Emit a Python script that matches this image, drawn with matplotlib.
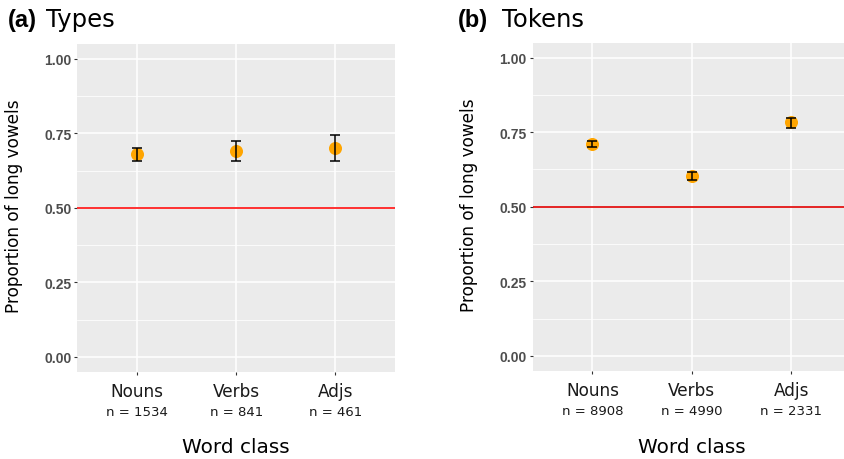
import matplotlib
matplotlib.use('Agg')
import matplotlib.pyplot as plt
from matplotlib.ticker import MultipleLocator
import numpy as np

categories = ['Nouns', 'Verbs', 'Adjs']
types_n = [1534, 841, 461]
types_prop = [0.680, 0.690, 0.701]
types_lo = [0.656, 0.657, 0.657]
types_hi = [0.702, 0.723, 0.746]
tokens_n = [8908, 4990, 2331]
tokens_prop = [0.711, 0.604, 0.783]
tokens_lo = [0.701, 0.589, 0.765]
tokens_hi = [0.721, 0.618, 0.798]
yticks = [0.0, 0.25, 0.5, 0.75, 1.0]
ytick_labels = ['0.00', '0.25', '0.50', '0.75', '1.00']
baseline = 0.5

W, H = 845, 460
fig = plt.figure(figsize=(W / 100, H / 100), dpi=100)


def rect(l, t, r, b):
    return [l / W, 1 - b / H, (r - l) / W, (b - t) / H]


def px2pt(p):
    return p * 72 / 100


ax1 = fig.add_axes(rect(77.3, 45, 395, 372.7))
ax2 = fig.add_axes(rect(532.7, 43.7, 851, 371.7))


def panel(ax, prop, lo, hi, ns, linecolor, linew, bold, text, bx, tx, ylx):
    xs = np.arange(1, len(categories) + 1)
    prop = np.array(prop); lo = np.array(lo); hi = np.array(hi)
    ax.set_facecolor('#EBEBEB')
    for s in ax.spines.values():
        s.set_visible(False)
    ax.set_xlim(0.4, len(categories) + 0.6)
    ax.set_ylim(-0.05, 1.05)
    ax.set_xticks(xs)
    ax.set_xticklabels([''] * len(xs))
    ax.set_yticks(yticks)
    ax.set_yticklabels(ytick_labels, fontfamily='Liberation Sans',
                       fontweight='bold', fontsize=10, color='#4D4D4D')
    ax.yaxis.set_minor_locator(MultipleLocator(0.125))
    ax.grid(which='major', color='white', lw=1.1)
    ax.grid(which='minor', axis='y', color='white', lw=0.55)
    ax.set_axisbelow(True)
    ax.tick_params(which='minor', length=0)
    ax.tick_params(which='major', length=2.5, width=0.8, color='#333333', pad=1.8)
    ax.axhline(baseline, color=linecolor, lw=linew, zorder=2)
    ax.plot(xs, prop, 'o', color='#FFA500', ms=9.4, mec='none', zorder=3)
    ax.errorbar(xs, prop, yerr=[prop - lo, hi - prop], fmt='none', ecolor='black',
                elinewidth=1.1, capsize=3.6, capthick=1.1, zorder=4)
    for x, c, n in zip(xs, categories, ns):
        ax.annotate(c, xy=(x, 0), xycoords=('data', 'axes fraction'),
                    xytext=(0, -px2pt(24)), textcoords='offset points',
                    ha='center', va='baseline', fontsize=12.2, color='#1A1A1A',
                    fontfamily='DejaVu Sans', annotation_clip=False)
        ax.annotate(f'n = {n}', xy=(x, 0), xycoords=('data', 'axes fraction'),
                    xytext=(0, -px2pt(43.3)), textcoords='offset points',
                    ha='center', va='baseline', fontsize=9.5, color='#1A1A1A',
                    fontfamily='DejaVu Sans', annotation_clip=False)
    # axis titles
    pos = ax.get_position()
    cx = (pos.x0 + min(pos.x1, 1.0 + (pos.x1 - 1.0))) / 2
    cx = (pos.x0 + pos.x1) / 2
    fig.text(cx, 1 - 453.3 / H, 'Word class', ha='center', va='baseline',
             fontsize=14.4, fontfamily='DejaVu Sans', color='black')
    cy = (pos.y0 + pos.y1) / 2 + 3 / H
    fig.text(ylx / W, cy, 'Proportion of long vowels', rotation=90,
             ha='center', va='center', fontsize=12.2, fontfamily='DejaVu Sans',
             color='black')
    # panel titles
    fig.text(bx / W, 1 - 26.7 / H, bold, ha='left', va='baseline', fontsize=17,
             fontweight='bold', fontfamily='Liberation Sans', color='black')
    fig.text(tx / W, 1 - 26.7 / H, text, ha='left', va='baseline', fontsize=17.5,
             fontfamily='DejaVu Sans', color='black')


panel(ax1, types_prop, types_lo, types_hi, types_n, '#FF3030', 1.4,
      '(a)', 'Types', 7.5, 46, 14.5)
panel(ax2, tokens_prop, tokens_lo, tokens_hi, tokens_n, '#E00000', 1.2,
      '(b)', 'Tokens', 458, 502.5, 469.5)

fig.savefig('out.png', dpi=100, facecolor='white')
